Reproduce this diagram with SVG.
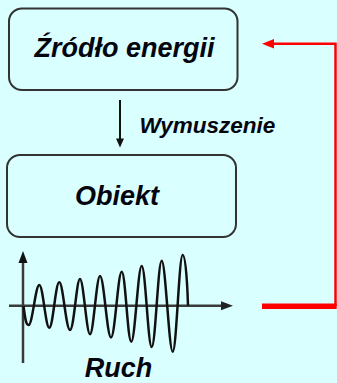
<svg xmlns="http://www.w3.org/2000/svg" width="337" height="383" viewBox="0 0 337 383">
<style>
.box{fill:none;stroke:#333;stroke-width:2}
.lbl{font-family:"Liberation Sans",Arial,sans-serif;font-weight:bold;font-style:italic;fill:#05050f}
.ax{stroke:#3a3a3a;stroke-width:2.5;fill:none}
.red{stroke:#ff0000;fill:none}
</style>
<rect width="337" height="383" fill="#d9ffff"/>
<g id="zrodlo">
<rect class="box" x="9" y="8.5" width="228.5" height="81.5" rx="13"/>
<text class="lbl" x="124.5" y="57" font-size="27" text-anchor="middle">Źródło energii</text>
</g>
<g id="obiekt">
<rect class="box" x="7" y="155" width="229" height="82" rx="13"/>
<text class="lbl" x="117" y="205" font-size="27" text-anchor="middle">Obiekt</text>
</g>
<g id="ruch">
<line class="ax" x1="23" y1="260" x2="23" y2="363"/>
<polygon points="23,251 18.5,263 27.5,263" fill="#111"/>
<line class="ax" x1="9" y1="305.7" x2="223" y2="305.7"/>
<polygon points="233,305.7 221,301.2 221,310.2" fill="#222"/>
<path fill="none" stroke="#111" stroke-width="2.5" stroke-linejoin="round" d="M23.5,306 C25,318 26,325 28.5,325 C32.5,325 35.5,285 39.3,285 C43,285 45.5,327.7 49.3,327.7 C53,327.7 55.5,282.3 59.3,282.3 C63,282.3 66,330 70,330 C74,330 76.5,279 80,279 C83.5,279 86.5,334.3 90,334.3 C93.5,334.3 96.5,276 100,276 C104,276 107,337.5 111,337.5 C115,337.5 118,271.7 121.7,271.7 C125.5,271.7 127.5,341.7 131.3,341.7 C135,341.7 138,266 141.7,266 C145.5,266 148,347 151.7,347 C155.5,347 158,260.7 161.7,260.7 C165.5,260.7 169,351.7 172.7,351.7 C176.5,351.7 179,255 182.7,255 C186,255 187.5,290 188,305.5"/>
<text class="lbl" x="118.5" y="377" font-size="27" text-anchor="middle">Ruch</text>
</g>
<g id="connectors">
<line x1="120" y1="100" x2="120" y2="140" stroke="#111" stroke-width="2"/>
<polygon points="120,147.5 116,138.5 124,138.5" fill="#111"/>
<text class="lbl" x="139.5" y="133" font-size="22.5">Wymuszenie</text>
<polyline class="red" stroke-width="2.5" points="271,43.8 335.5,43.8 335.5,306"/>
<polygon points="262,43.8 274,39 274,48.6" fill="#ff0000"/>
<line class="red" stroke-width="5.5" x1="262" y1="306.3" x2="336.7" y2="306.3"/>
</g>
</svg>
